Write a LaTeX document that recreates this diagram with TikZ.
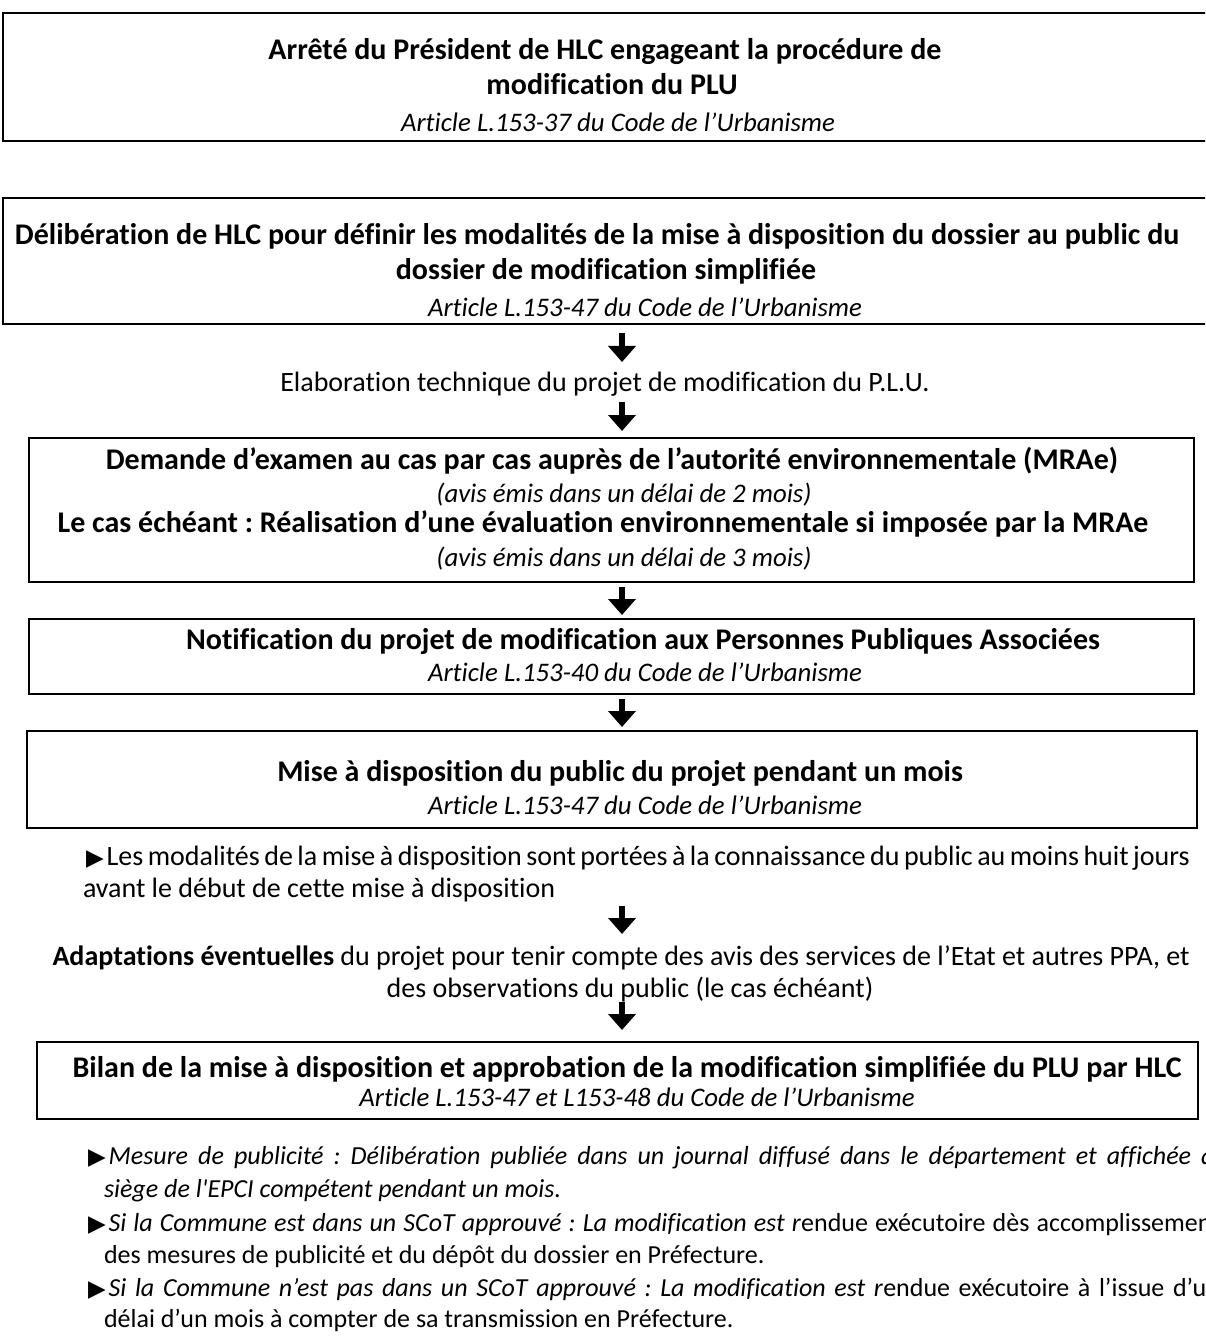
\documentclass[tikz,border=0pt]{standalone}
\usepackage{fontspec}
\setmainfont{Carlito}[Ligatures={NoCommon}]
\newfontfamily\symf{DejaVu Sans}
\usetikzlibrary{arrows.meta,fit}
\newcommand{\tri}{{\symf\fontsize{11.5}{12}\selectfont ▶}\kern1.5pt}
\frenchspacing
\begin{document}
\begin{tikzpicture}[x=0.5pt,y=-0.5pt,
  every node/.style={inner sep=0pt, outer sep=0pt},
  rg/.style={anchor=base, font=\fontsize{14}{17}\selectfont},
  bd/.style={anchor=base, font=\fontsize{15}{18}\selectfont\bfseries},
  it/.style={anchor=base, font=\fontsize{13.4}{16}\selectfont\itshape},
  lw/.style={anchor=base west, font=\fontsize{14}{17}\selectfont},
  lb/.style={anchor=base west, font=\fontsize{13}{16}\selectfont},
  bx/.style={draw, line width=1.4pt},
  ar/.style={line width=2.8pt, -{Triangle[length=8pt,width=13.5pt]}},
]
\useasboundingbox (0,0) rectangle (1205,1336);
\clip (0,0) rectangle (1205,1336);

% ---- boxes
\coordinate (b1a) at (3,13);    \coordinate (b1b) at (1220,141);
\coordinate (b2a) at (3,198);   \coordinate (b2b) at (1220,324);
\coordinate (b3a) at (29,438);  \coordinate (b3b) at (1194,582);
\coordinate (b4a) at (29,619);  \coordinate (b4b) at (1194,694);
\coordinate (b5a) at (27,731);  \coordinate (b5b) at (1197,828);
\coordinate (b6a) at (37,1042); \coordinate (b6b) at (1198,1119);
\node[bx, fit=(b1a)(b1b)] (box1) {};
\node[bx, fit=(b2a)(b2b)] (box2) {};
\node[bx, fit=(b3a)(b3b)] (box3) {};
\node[bx, fit=(b4a)(b4b)] (box4) {};
\node[bx, fit=(b5a)(b5b)] (box5) {};
\node[bx, fit=(b6a)(b6b)] (box6) {};

% ---- box 1
\node[bd] (t1a) at (605,60) {Arrêté du Président de HLC engageant la procédure de};
\node[bd] (t1b) at (612,95) {modification du PLU};
\node[it] (t1c) at (618,132) {Article L.153-37 du Code de l’Urbanisme};

% ---- box 2
\node[bd] (t2a) at (597,245) {Délibération de HLC pour définir les modalités de la mise à disposition du dossier au public du};
\node[bd] (t2b) at (606,280) {dossier de modification simplifiée};
\node[it] (t2c) at (645,317) {Article L.153-47 du Code de l’Urbanisme};

% ---- elaboration
\node[rg] (t3) at (605,392) {Elaboration technique du projet de modification du P.L.U.};

% ---- box 3
\node[bd] (t4a) at (612,469) {Demande d’examen au cas par cas auprès de l’autorité environnementale (MRAe)};
\node[it] (t4b) at (624,502) {(avis émis dans un délai de 2 mois)};
\node[bd] (t4c) at (603,532) {Le cas échéant : Réalisation d’une évaluation environnementale si imposée par la MRAe};
\node[it] (t4d) at (624,566) {(avis émis dans un délai de 3 mois)};

% ---- box 4
\node[bd] (t5a) at (643,649) {Notification du projet de modification aux Personnes Publiques Associées};
\node[it] (t5b) at (645,681) {Article L.153-40 du Code de l’Urbanisme};

% ---- box 5
\node[bd] (t6a) at (620,781) {Mise à disposition du public du projet pendant un mois};
\node[it] (t6b) at (645,814) {Article L.153-47 du Code de l’Urbanisme};

% ---- modalites
\node[lw] (t7a) at (86,865) {\makebox[552pt][s]{\tri Les modalités de la mise à disposition sont portées à la connaissance du public au moins huit jours}};
\node[lw] (t7b) at (83,897) {avant le début de cette mise à disposition};

% ---- adaptations
\node[rg] (t8a) at (621,965) {\textbf{Adaptations éventuelles} du projet pour tenir compte des avis des services de l’Etat et autres PPA, et};
\node[rg] (t8b) at (630,997) {des observations du public (le cas échéant)};

% ---- box 6
\node[bd] (t9a) at (627,1077) {Bilan de la mise à disposition et approbation de la modification simplifiée du PLU par HLC};
\node[it] (t9b) at (637,1106) {Article L.153-47 et L153-48 du Code de l’Urbanisme};

% ---- bullets
\node[lb] (u1a) at (88,1164) {\makebox[570pt][s]{\tri\textit{Mesure de publicité : Délibération publiée dans un journal diffusé dans le département et affichée au}}};
\node[lb] (u1b) at (104,1197) {\textit{siège de l\textquotesingle EPCI compétent pendant un mois.}};
\node[lb] (u2a) at (88,1231) {\makebox[566pt][s]{\tri\textit{Si la Commune est dans un SCoT approuvé : La modification est r}endue exécutoire dès accomplissement}};
\node[lb] (u2b) at (104,1263) {des mesures de publicité et du dépôt du dossier en Préfecture.};
\node[lb] (u3a) at (88,1296) {\makebox[566pt][s]{\tri\textit{Si la Commune n’est pas dans un SCoT approuvé : La modification est r}endue exécutoire à l’issue d’un}};
\node[lb] (u3b) at (104,1327) {délai d’un mois à compter de sa transmission en Préfecture.};

% ---- arrows
\coordinate (a1s) at (622,333);  \coordinate (a1e) at (622,362);
\coordinate (a2s) at (622,402);  \coordinate (a2e) at (622,431);
\coordinate (a3s) at (622,587);  \coordinate (a3e) at (622,615);
\coordinate (a4s) at (622,699);  \coordinate (a4e) at (622,727);
\coordinate (a5s) at (622,906);  \coordinate (a5e) at (622,934);
\coordinate (a6s) at (622,1002); \coordinate (a6e) at (622,1030);
\draw[ar] (a1s) -- (a1e);
\draw[ar] (a2s) -- (a2e);
\draw[ar] (a3s) -- (a3e);
\draw[ar] (a4s) -- (a4e);
\draw[ar] (a5s) -- (a5e);
\draw[ar] (a6s) -- (a6e);
\end{tikzpicture}
\end{document}
